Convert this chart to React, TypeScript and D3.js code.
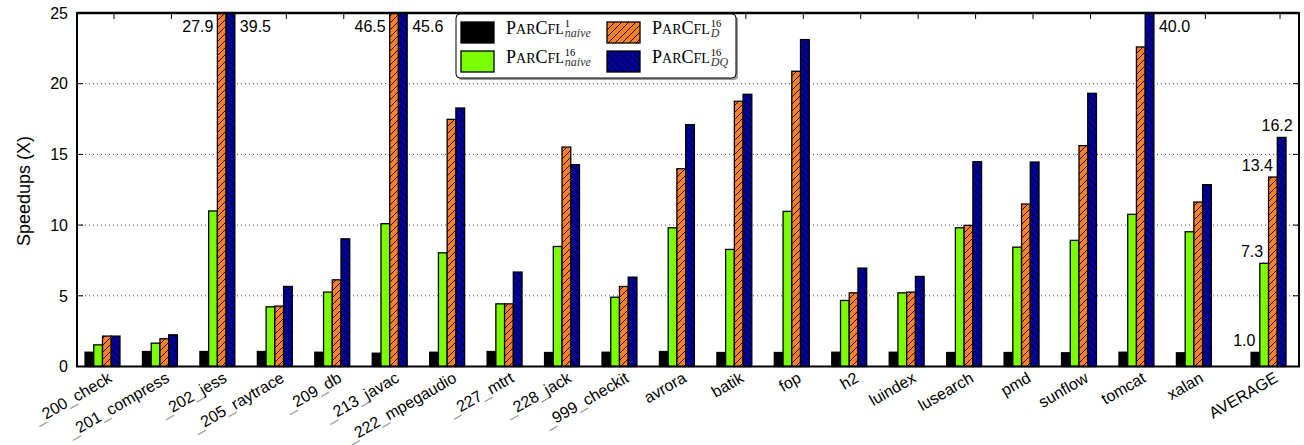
import { useEffect, useRef } from 'react'
import * as d3 from 'd3'

// benchmarks, in plot order
const categories = [
  '_200_check', '_201_compress', '_202_jess', '_205_raytrace', '_209_db', '_213_javac',
  '_222_mpegaudio', '_227_mtrt', '_228_jack', '_999_checkit', 'avrora', 'batik', 'fop',
  'h2', 'luindex', 'lusearch', 'pmd', 'sunflow', 'tomcat', 'xalan', 'AVERAGE',
]

const naive1  = [1.01, 1.06, 1.06, 1.06, 1.01, 0.94, 1.01, 1.06, 0.99, 1.01, 1.06, 0.99, 0.99, 1.01, 1.01, 0.99, 0.99, 0.97, 1.01, 0.97, 1.0]
const naive16 = [1.53, 1.65, 11.0, 4.22, 5.26, 10.1, 8.04, 4.43, 8.49, 4.9, 9.81, 8.28, 10.97, 4.67, 5.21, 9.81, 8.44, 8.92, 10.76, 9.53, 7.3]
const parD    = [2.15, 1.96, 27.9, 4.27, 6.13, 46.5, 17.48, 4.43, 15.52, 5.66, 13.99, 18.76, 20.88, 5.21, 5.26, 9.98, 11.49, 15.62, 22.6, 11.63, 13.4]
const parDQ   = [2.15, 2.24, 39.5, 5.66, 9.03, 45.6, 18.28, 6.68, 14.27, 6.32, 17.1, 19.25, 23.12, 6.96, 6.37, 14.48, 14.46, 19.32, 40.0, 12.86, 16.2]

const yTicks = [0, 5, 10, 15, 20, 25]

const W = 1304
const H = 445
const FONT = '"Liberation Sans", Arial, Helvetica, sans-serif'
const SERIF = '"Liberation Serif", "Times New Roman", serif'

const series = [
  { key: 'naive1',  values: naive1,  fill: '#000000', sup: '1',  sub: 'naive' },
  { key: 'naive16', values: naive16, fill: '#7cfc00', sup: '16', sub: 'naive' },
  { key: 'D',       values: parD,    fill: 'url(#hatchOrange)', sup: '16', sub: 'D' },
  { key: 'DQ',      values: parDQ,   fill: 'url(#hatchBlue)',   sup: '16', sub: 'DQ' },
]

export default function App() {
  const svgRef = useRef<SVGSVGElement>(null)

  useEffect(() => {
    if (!svgRef.current) return
    const svg = d3.select(svgRef.current)
    svg.selectAll('*').remove()

    const left = 77, right = 1299, top = 13, bottom = 366.5
    const yMax = 25

    // AVERAGE sits a little further out than the rest
    const pos = categories.map((c, i) => (c === 'AVERAGE' ? 20.3 : i))
    const x = d3.scaleLinear().domain([-0.444, 20.83]).range([left, right])
    const y = d3.scaleLinear().domain([0, yMax]).range([bottom, top])
    const bw = x(0.152) - x(0)
    const tickOff = 0.2

    // patterns
    const defs = svg.append('defs')
    const po = defs.append('pattern').attr('id', 'hatchOrange')
      .attr('patternUnits', 'userSpaceOnUse').attr('width', 7).attr('height', 7)
    po.append('rect').attr('width', 7).attr('height', 7).attr('fill', '#ff7f24')
    po.append('path').attr('d', 'M0,7 L7,0 M-2,2 L2,-2 M5,9 L9,5')
      .attr('stroke', '#000').attr('stroke-width', 0.9)
    const pb = defs.append('pattern').attr('id', 'hatchBlue')
      .attr('patternUnits', 'userSpaceOnUse').attr('width', 7).attr('height', 7)
    pb.append('rect').attr('width', 7).attr('height', 7).attr('fill', '#00009c')
    pb.append('path').attr('d', 'M0,0 L7,7 M-2,5 L2,9 M5,-2 L9,2')
      .attr('stroke', '#000').attr('stroke-width', 0.9)

    svg.append('rect').attr('width', W).attr('height', H).attr('fill', '#fff')

    // grid
    yTicks.filter(t => t > 0 && t < yMax).forEach(t => {
      svg.append('line')
        .attr('x1', left).attr('x2', right).attr('y1', y(t)).attr('y2', y(t))
        .attr('stroke', '#444').attr('stroke-width', 1).attr('stroke-dasharray', '1,3')
    })

    // y ticks + labels
    yTicks.forEach(t => {
      svg.append('line').attr('x1', left).attr('x2', left + 6).attr('y1', y(t)).attr('y2', y(t))
        .attr('stroke', '#000').attr('stroke-width', 1)
      svg.append('line').attr('x1', right - 6).attr('x2', right).attr('y1', y(t)).attr('y2', y(t))
        .attr('stroke', '#000').attr('stroke-width', 1)
      svg.append('text')
        .attr('x', left - 9).attr('y', y(t)).attr('dy', '0.36em')
        .attr('text-anchor', 'end').attr('font-family', FONT).attr('font-size', 16)
        .attr('fill', '#000').text(t)
    })

    // x ticks (top and bottom, drawn under bars)
    pos.forEach(p => {
      const tx = x(p + tickOff)
      svg.append('line').attr('x1', tx).attr('x2', tx).attr('y1', top).attr('y2', top + 6)
        .attr('stroke', '#000').attr('stroke-width', 1)
      svg.append('line').attr('x1', tx).attr('x2', tx).attr('y1', bottom - 6).attr('y2', bottom)
        .attr('stroke', '#000').attr('stroke-width', 1)
    })

    // bars
    const barG = svg.append('g')
    series.forEach((s, k) => {
      s.values.forEach((v, i) => {
        const bx = x(pos[i]) + (k - 2) * bw
        const vy = y(Math.min(v, yMax))
        barG.append('rect')
          .attr('x', bx).attr('y', vy)
          .attr('width', bw).attr('height', bottom - vy)
          .attr('fill', s.fill).attr('stroke', '#000').attr('stroke-width', 1.3)
      })
    })

    // labels for bars that run off the top
    const labelY = y(24) + 5
    series.forEach((s, k) => {
      if (k < 2) return
      s.values.forEach((v, i) => {
        if (v <= yMax) return
        const bx = x(pos[i]) + (k - 2) * bw
        const isLeft = k === 2
        svg.append('text')
          .attr('x', isLeft ? bx - 4 : bx + bw + 5).attr('y', labelY)
          .attr('text-anchor', isLeft ? 'end' : 'start')
          .attr('font-family', FONT).attr('font-size', 16).attr('fill', '#000')
          .text(v.toFixed(1))
      })
    })

    // average labels
    const avg = categories.length - 1
    const avgDx = [0, -1, 0, 11]
    series.forEach((s, k) => {
      const v = s.values[avg]
      const cx = x(pos[avg]) + (k - 2) * bw + bw / 2
      svg.append('text')
        .attr('x', cx + avgDx[k]).attr('y', y(v) - 6)
        .attr('text-anchor', 'end')
        .attr('font-family', FONT).attr('font-size', 16).attr('fill', '#000')
        .text(v.toFixed(1))
    })

    // frame
    svg.append('rect')
      .attr('x', left).attr('y', top).attr('width', right - left).attr('height', bottom - top)
      .attr('fill', 'none').attr('stroke', '#000').attr('stroke-width', 2)
    svg.append('line').attr('x1', left).attr('x2', right).attr('y1', top).attr('y2', top)
      .attr('stroke', '#000').attr('stroke-width', 2.6)

    // x labels
    categories.forEach((c, i) => {
      const tx = x(pos[i] + tickOff) - 1
      const t = svg.append('text')
        .attr('transform', `translate(${tx},381) rotate(-30)`)
        .attr('text-anchor', 'end')
        .attr('font-family', FONT).attr('font-size', 16).attr('fill', '#000')
      c.split(/(_)/).filter(Boolean).forEach(part => {
        t.append('tspan').attr('fill', part === '_' ? '#999' : '#000').text(part)
      })
    })

    // y label
    svg.append('text')
      .attr('transform', 'translate(30,191) rotate(-90)')
      .attr('text-anchor', 'middle')
      .attr('font-family', FONT).attr('font-size', 18).attr('fill', '#000')
      .text('Speedups (X)')

    // legend
    const lg = svg.append('g')
    lg.append('rect').attr('x', 458).attr('y', 16).attr('width', 280).attr('height', 64)
      .attr('rx', 4).attr('fill', '#9a9a9a')
    lg.append('rect').attr('x', 456).attr('y', 14).attr('width', 280).attr('height', 64)
      .attr('rx', 4).attr('fill', '#fff').attr('stroke', '#000').attr('stroke-width', 1)

    const slots = [
      { sx: 461, ty: 22 },
      { sx: 461, ty: 51 },
      { sx: 607, ty: 22 },
      { sx: 607, ty: 51 },
    ]
    series.forEach((s, k) => {
      const { sx, ty } = slots[k]
      lg.append('rect').attr('x', sx).attr('y', ty).attr('width', 33).attr('height', 21)
        .attr('fill', s.fill).attr('stroke', '#000').attr('stroke-width', 1.3)
      const base = ty + 11.5
      const tx = sx + 45
      const name = lg.append('text').attr('x', tx).attr('y', base)
        .attr('font-family', SERIF).attr('fill', '#000')
      ;[['P', 18], ['AR', 14], ['C', 18], ['FL', 14]].forEach(([str, fs]) => {
        name.append('tspan').attr('font-size', fs as number).text(str as string)
      })
      const nw = (name.node() as SVGTextElement).getComputedTextLength()
      lg.append('text').attr('x', tx + nw + 1).attr('y', base - 7)
        .attr('font-family', SERIF).attr('font-size', 10.5).attr('fill', '#000')
        .text(s.sup)
      lg.append('text').attr('x', tx + nw + 1).attr('y', base + 3.5)
        .attr('font-family', SERIF).attr('font-size', 12).attr('font-style', 'italic')
        .attr('fill', '#333').text(s.sub)
    })
  }, [])

  return (
    <div style={{ position: 'absolute', left: 0, top: 0 }}>
      <svg ref={svgRef} width={W} height={H} style={{ display: 'block' }} />
    </div>
  )
}
